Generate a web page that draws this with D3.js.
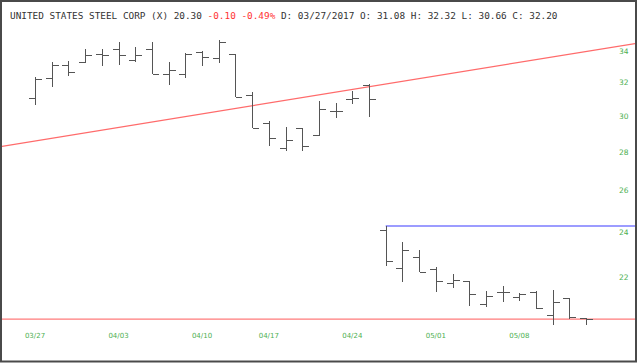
<!DOCTYPE html>
<html>
<head>
<meta charset="utf-8">
<script src="https://cdn.jsdelivr.net/npm/d3@7"></script>
<style>
  body { margin: 0; background: #fff; }
  svg { display: block; }
</style>
</head>
<body>
<svg id="chart" width="640" height="364"></svg>
<script>
// daily OHLC, 03/27/2017 - 05/12/2017
var dates = ["03/27","03/28","03/29","03/30","03/31",
             "04/03","04/04","04/05","04/06","04/07",
             "04/10","04/11","04/12","04/13",
             "04/17","04/18","04/19","04/20","04/21",
             "04/24","04/25","04/26","04/27","04/28",
             "05/01","05/02","05/03","05/04","05/05",
             "05/08","05/09","05/10","05/11","05/12"];
var opens  = [31.08,32.25,33.07,33.29,33.80,34.16,33.42,34.13,32.53,32.53,33.95,33.53,33.78,31.24,
              29.60,28.20,29.30,28.93,30.31,31.03,31.85,24.10,22.41,22.88,22.35,21.78,21.85,20.89,
              21.40,21.20,21.40,20.47,21.13,20.36];
var highs  = [32.32,33.32,33.35,34.13,34.13,34.59,34.26,34.61,33.31,33.87,34.00,34.73,33.80,31.42,
              29.69,29.38,29.30,30.90,30.75,31.50,31.91,24.29,23.54,23.19,22.43,22.13,21.85,21.43,
              21.64,21.34,21.43,21.47,21.13,20.36];
var lows   = [30.66,31.73,32.40,33.26,33.03,33.07,33.26,32.53,31.85,32.26,33.03,33.22,31.14,29.30,
              28.33,28.06,28.03,28.90,29.87,30.68,29.96,22.49,21.79,22.24,21.40,21.54,20.83,20.79,
              20.97,21.04,20.70,20.08,20.31,20.08];
var closes = [32.20,33.07,32.65,33.77,33.71,33.76,33.76,32.53,32.78,33.78,33.63,34.57,31.14,29.30,
              28.76,28.63,28.33,30.39,30.31,31.09,30.98,22.70,23.19,22.24,21.86,21.90,21.30,21.23,
              21.40,21.30,20.75,20.97,20.40,20.30];

var xTickLabels = ["03/27","04/03","04/10","04/17","04/24","05/01","05/08"];
var yTicks = [22, 24, 26, 28, 30, 32, 34];

// title pieces
var titleName = "UNITED STATES STEEL CORP (X) 20.30 ";
var titleChange = "-0.10 -0.49%";
var titleInfo = " D: 03/27/2017 O: 31.08 H: 32.32 L: 30.66 C: 32.20";

// drawn lines: trend line (two anchors), resistance level, last price
var trendDates = ["03/27","05/12"];
var trendValues = [28.60, 33.97];
var levelDate = "04/26";
var levelValue = 24.29;
var lastPrice = 20.30;

var svg = d3.select("#chart");

// frame
var frame = {left: 2, top: 2, right: 635, bottom: 360};
svg.append("rect")
    .attr("x", 1).attr("y", 1)
    .attr("width", 635).attr("height", 360.5)
    .attr("fill", "#fff")
    .attr("stroke", "#4a4a4a")
    .attr("stroke-width", 2);

svg.append("clipPath").attr("id", "clip")
  .append("rect")
    .attr("x", frame.left).attr("y", frame.top)
    .attr("width", frame.right - frame.left)
    .attr("height", frame.bottom - frame.top);

// scales
var x = d3.scaleBand()
    .domain(dates)
    .range([26.65, 26.65 + dates.length * 16.7])
    .padding(0);
var cx = function(d) { return x(d) + x.bandwidth() / 2; };

var y = d3.scaleLog()
    .domain([20.3, 34])
    .range([319.2, 51]);

// title
var title = svg.append("text")
    .attr("x", 10).attr("y", 18.5)
    .style("font-family", "'DejaVu Sans Mono', monospace")
    .style("font-size", "9.4px")
    .attr("fill", "#333");
title.append("tspan").text(titleName);
title.append("tspan").attr("fill", "#ff3333").text(titleChange);
title.append("tspan").text(titleInfo);

// Y axis (right)
var yAxis = svg.append("g")
    .attr("transform", "translate(615,0)")
    .call(d3.axisRight(y).tickValues(yTicks).tickSize(0).tickPadding(4)
        .tickFormat(d3.format("d")));
yAxis.select(".domain").remove();
yAxis.selectAll("text")
    .style("font-family", "'DejaVu Sans', sans-serif")
    .style("font-size", "7.5px")
    .attr("fill", "#4caf50");

// X axis
var xAxis = svg.append("g")
    .attr("transform", "translate(0,330)")
    .call(d3.axisBottom(x).tickValues(xTickLabels).tickSize(0).tickPadding(3));
xAxis.select(".domain").remove();
xAxis.selectAll("text")
    .style("font-family", "'DejaVu Sans', sans-serif")
    .style("font-size", "7px")
    .attr("fill", "#4caf50");

var lines = svg.append("g").attr("clip-path", "url(#clip)");

// trend line, extended to the frame edges
var tx0 = cx(trendDates[0]), ty0 = y(trendValues[0]);
var tx1 = cx(trendDates[1]), ty1 = y(trendValues[1]);
var slope = (ty1 - ty0) / (tx1 - tx0);
lines.append("line")
    .attr("x1", frame.left).attr("y1", ty0 + (frame.left - tx0) * slope)
    .attr("x2", frame.right).attr("y2", ty0 + (frame.right - tx0) * slope)
    .attr("stroke", "#ff6b6b")
    .attr("stroke-width", 1.2);

// resistance level
lines.append("line")
    .attr("x1", cx(levelDate)).attr("y1", y(levelValue))
    .attr("x2", frame.right).attr("y2", y(levelValue))
    .attr("stroke", "#7b7bff")
    .attr("stroke-width", 1.5);

// last price
lines.append("line")
    .attr("x1", frame.left).attr("y1", y(lastPrice))
    .attr("x2", frame.right).attr("y2", y(lastPrice))
    .attr("stroke", "#ff7b7b")
    .attr("stroke-width", 1.2);

// OHLC bars
var bars = svg.append("g")
    .attr("stroke", "#555")
    .attr("stroke-width", 1)
    .attr("shape-rendering", "crispEdges");

var idx = d3.range(dates.length);
var px = function(i) { return Math.round(cx(dates[i])) + 0.5; };

bars.selectAll("line.hl")
    .data(idx)
    .enter()
    .append("line")
    .attr("class", "hl")
    .attr("x1", px).attr("x2", px)
    .attr("y1", function(i) { return y(highs[i]); })
    .attr("y2", function(i) { return y(lows[i]); });

bars.selectAll("line.open")
    .data(idx)
    .enter()
    .append("line")
    .attr("class", "open")
    .attr("x1", function(i) { return px(i) - 6.5; })
    .attr("x2", px)
    .attr("y1", function(i) { return Math.round(y(opens[i])) + 0.5; })
    .attr("y2", function(i) { return Math.round(y(opens[i])) + 0.5; });

bars.selectAll("line.close")
    .data(idx)
    .enter()
    .append("line")
    .attr("class", "close")
    .attr("x1", px)
    .attr("x2", function(i) { return px(i) + 6.5; })
    .attr("y1", function(i) { return Math.round(y(closes[i])) + 0.5; })
    .attr("y2", function(i) { return Math.round(y(closes[i])) + 0.5; });
</script>
</body>
</html>
